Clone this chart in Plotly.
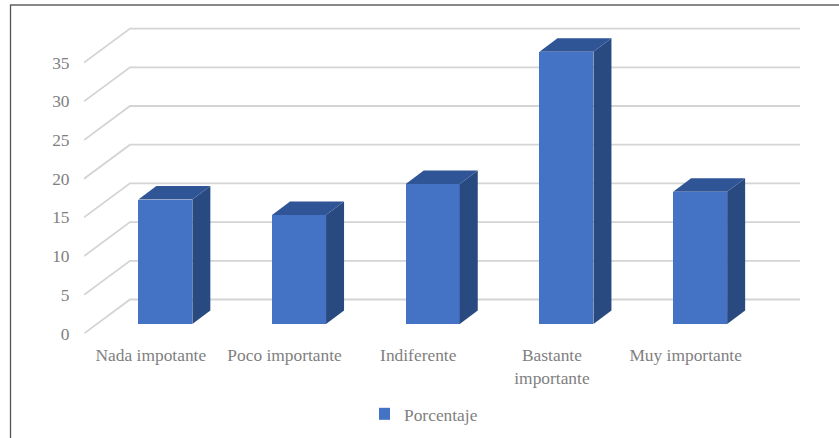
import plotly.graph_objects as go

categories = ["Nada impotante", "Poco importante", "Indiferente", "Bastante<br>importante", "Muy importante"]
values = [16, 14, 18, 35, 17]
y_ticks = [0, 5, 10, 15, 20, 25, 30, 35]
series_name = "Porcentaje"

W, H = 839, 438
L, R, T, B = 84, 800, 10, 333.5      # plot box, px
CAT = 133.7                          # px per category on the front plane
PX_WALL = 7.74                       # px per unit on the wall scale
PX_BAR = 7.78                        # px per unit on the bar scale
BAR_BASE = 324                       # px of value 0 on the bar plane
n = len(categories)

FRONT, TOP, SIDE = "#4472C4", "#2F5597", "#284a80"
GRID, TXT = "#d4d4d4", "#7f7f7f"
FONT = "Liberation Serif"
FS = 17.4

xs = list(range(n))
x_max = -0.5 + (R - L) / CAT
y_max = (B - T) / PX_WALL
shift_x = 14.5 / CAT
y2_lo, y2_hi = (BAR_BASE - B) / PX_BAR, (BAR_BASE - T) / PX_BAR

wall_dx, wall_dy = 46 / CAT, 34 / PX_WALL      # wall depth
bar_dx, bar_dy = 18 / CAT, 13.5 / PX_BAR       # bar depth
half = 27 / CAT

fig = go.Figure()

# grid: diagonal on the side wall then straight along the back wall
for v in y_ticks:
    fig.add_trace(go.Scatter(
        x=[-0.5, -0.5 + wall_dx, x_max], y=[v, v + wall_dy, v + wall_dy],
        mode="lines", line=dict(color=GRID, width=1.8),
        showlegend=False, hoverinfo="skip", cliponaxis=False))

fig.add_trace(go.Bar(
    x=xs, y=values, name=series_name, width=2 * half,
    marker=dict(color=FRONT, line=dict(width=0)),
    xaxis="x2", yaxis="y2", showlegend=True))

for x, v in zip(xs, values):
    xl, xr = x - half, x + half
    fig.add_trace(go.Scatter(
        x=[xr, xr + bar_dx, xr + bar_dx, xr, xr], y=[0, bar_dy, v + bar_dy, v, 0],
        fill="toself", fillcolor=SIDE, mode="lines", line=dict(width=0),
        xaxis="x2", yaxis="y2", showlegend=False, hoverinfo="skip"))
    fig.add_trace(go.Scatter(
        x=[xl, xl + bar_dx, xr + bar_dx, xr, xl], y=[v, v + bar_dy, v + bar_dy, v, v],
        fill="toself", fillcolor=TOP, mode="lines", line=dict(width=0),
        xaxis="x2", yaxis="y2", showlegend=False, hoverinfo="skip"))

pw, ph = R - L, H - T
fig.update_layout(
    width=W, height=H, autosize=False,
    margin=dict(l=L, r=W - R, t=T, b=0, pad=0),
    paper_bgcolor="white", plot_bgcolor="rgba(0,0,0,0)",
    font=dict(family=FONT, size=FS, color=TXT),
    bargap=0,
    showlegend=True,
    xaxis=dict(domain=[0, 1], range=[-0.5, x_max], tickmode="array", tickvals=xs, ticktext=categories,
               showgrid=False, zeroline=False, showline=False, automargin=False,
               ticks="outside", ticklen=6, tickcolor="rgba(0,0,0,0)",
               tickfont=dict(family=FONT, size=FS, color=TXT)),
    yaxis=dict(domain=[(H - B) / ph, 1], range=[0, y_max], tickmode="array", tickvals=y_ticks,
               showgrid=False, zeroline=False, showline=False, automargin=False,
               ticks="outside", ticklen=10, tickcolor="rgba(0,0,0,0)",
               tickfont=dict(family=FONT, size=FS, color=TXT)),
    xaxis2=dict(overlaying="x", range=[-0.5 - shift_x, x_max - shift_x], visible=False),
    yaxis2=dict(overlaying="y", range=[y2_lo, y2_hi], visible=False),
    legend=dict(orientation="h", xref="paper", yref="paper", indentation=-15,
                x=(379 - L) / pw, xanchor="left", y=6 / ph, yanchor="bottom",
                font=dict(family=FONT, size=FS, color=TXT), bgcolor="rgba(0,0,0,0)"),
    shapes=[
        dict(type="line", xref="paper", yref="paper", x0=(10 - L) / pw, x1=(W - L) / pw,
             y0=(H - 5) / ph, y1=(H - 5) / ph, line=dict(color="#111111", width=1)),
        dict(type="line", xref="paper", yref="paper", x0=(10.5 - L) / pw, x1=(10.5 - L) / pw,
             y0=(H - 5) / ph, y1=0, line=dict(color="#555555", width=1.3)),
    ],
)

fig.write_html("out.html", config={"displayModeBar": False},
               post_script="document.body.style.margin='0';")
